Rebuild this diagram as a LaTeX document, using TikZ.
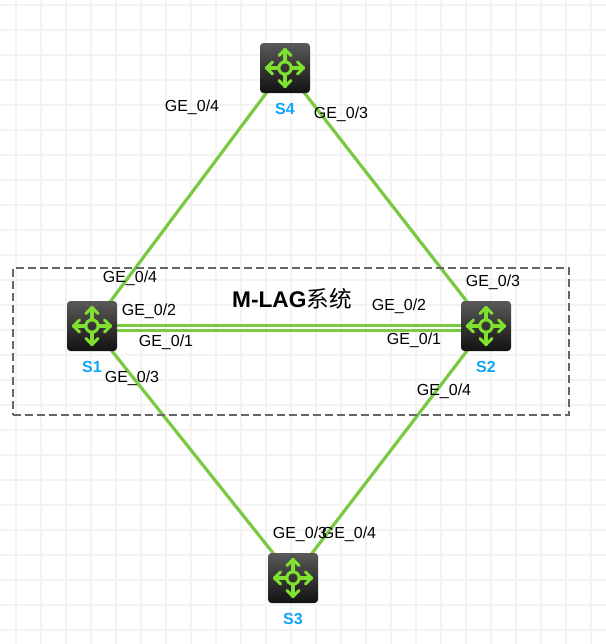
\documentclass[tikz,border=0pt]{standalone}
\usepackage{fontspec}
\setmainfont{Liberation Sans}
\newfontfamily\cjk{Noto Sans CJK SC}
\pgfdeclarelayer{gridlayer}
\pgfdeclarelayer{linklayer}
\pgfsetlayers{gridlayer,linklayer,main}
\definecolor{gridc}{HTML}{F3F3F3}
\definecolor{linkc}{HTML}{7AC943}
\definecolor{iconc}{HTML}{7FE02F}
\definecolor{namec}{HTML}{0FA5FA}
\definecolor{boxc}{HTML}{666666}
\tikzset{
  x=0.75pt,y=-0.75pt,
  swbox/.style={minimum width=37.5pt,minimum height=37.5pt,inner sep=0pt,rounded corners=2.6pt,
    top color=black!65,bottom color=black!93,shading angle=0},
  swname/.style={font=\bfseries\fontsize{12}{14}\selectfont,text=namec,inner sep=0pt},
  port/.style={font=\fontsize{12}{14}\selectfont,text=black,inner sep=0pt},
  link/.style={draw=linkc,line width=2.4pt},
  duallink/.style={draw=linkc,line width=2.3pt},
  groupbox/.style={draw=boxc,line width=1.6pt,dash pattern=on 6pt off 3pt},
  arm/.style={draw=iconc,line width=2.3pt,line cap=round,line join=round},
  swicon/.pic={
    \draw[arm] (0,0) circle[radius=6.2];
    \foreach \a in {0,90,180,270}{
      \begin{scope}[rotate=\a]
        \draw[arm] (6.2,0) -- (18.5,0);
        \draw[arm] (12.5,-6) -- (18.5,0) -- (12.5,6);
      \end{scope}
    }
  }
}
\begin{document}
\begin{tikzpicture}
\useasboundingbox (0,0) rectangle (606,644);
\begin{pgfonlayer}{gridlayer}
  \fill[white] (0,0) rectangle (606,644);
  \foreach \gx in {16,41,...,591} \draw[gridc,line width=1.9pt] (\gx,0) -- (\gx,644);
  \foreach \gy in {5,30,...,630} \draw[gridc,line width=1.9pt] (0,\gy) -- (606,\gy);
\end{pgfonlayer}
\node[groupbox,minimum width=417pt,minimum height=110.25pt,inner sep=0pt] (grp) at (291,341.5) {};
\node[swbox] (S4) at (285,68) {}; \pic at (S4.center) {swicon};
\node[swbox] (S1) at (92,326) {}; \pic at (S1.center) {swicon};
\node[swbox] (S2) at (486,326) {}; \pic at (S2.center) {swicon};
\node[swbox] (S3) at (293,578) {}; \pic at (S3.center) {swicon};
\begin{pgfonlayer}{linklayer}
  \draw[link] (S4.center) -- (S1.center);
  \draw[link] (S4.center) -- (S2.center);
  \draw[link] (S1.center) -- (S3.center);
  \draw[link] (S2.center) -- (S3.center);
  \draw[duallink] ([yshift=0.4pt]S1.center) -- ([yshift=0.4pt]S2.center);
  \draw[duallink] ([yshift=-3.6pt]S1.center) -- ([yshift=-3.6pt]S2.center);
\end{pgfonlayer}
\node[swname] (n4) at (285,108.5) {S4};
\node[swname] (n1) at (92,366.5) {S1};
\node[swname] (n2) at (486,366.5) {S2};
\node[swname] (n3) at (293,618.5) {S3};
\node[inner sep=0pt,font=\bfseries\fontsize{17}{20}\selectfont] (title) at (292,298.5) {M-LAG{\normalfont\cjk\fontsize{17}{20}\selectfont 系统}};
\node[port] (p1) at (192,107) {GE\_0/4};
\node[port] (p2) at (341,114) {GE\_0/3};
\node[port] (p3) at (130,278) {GE\_0/4};
\node[port] (p4) at (149,311) {GE\_0/2};
\node[port] (p5) at (166,342) {GE\_0/1};
\node[port] (p6) at (132,378) {GE\_0/3};
\node[port] (p7) at (399,306) {GE\_0/2};
\node[port] (p8) at (414,340) {GE\_0/1};
\node[port] (p9) at (493,282) {GE\_0/3};
\node[port] (p10) at (444,391) {GE\_0/4};
\node[port] (p11) at (300,534) {GE\_0/3};
\node[port] (p12) at (349,534) {GE\_0/4};
\end{tikzpicture}
\end{document}
